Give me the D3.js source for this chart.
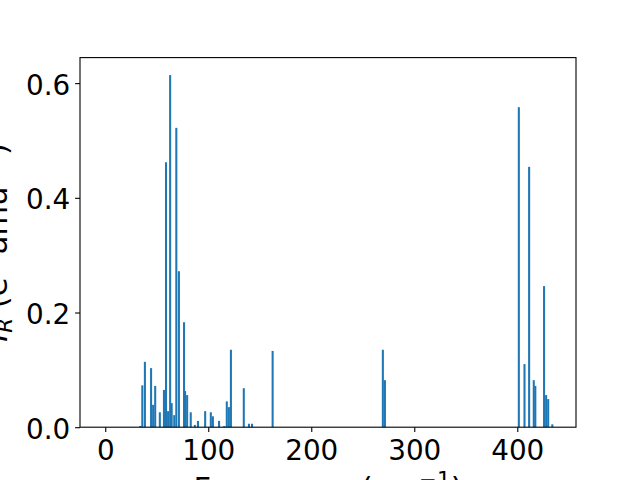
<!DOCTYPE html>
<html lang="en">

<head>
    <meta charset="utf-8" />
    <script src="https://d3js.org/d3.v7.min.js"></script>
    <style type="text/css">
        body {
            margin: 0;
            background: #ffffff;
        }

        svg text {
            font-family: 'DejaVu Sans', sans-serif;
        }

        .axis path,
        .axis line {
            stroke: #000000;
            stroke-width: 1.1px;
        }
    </style>
</head>

<body>
    <div class="svg-box"></div>
    <script type="text/javascript">
        // Mode frequencies (cm^-1) and IR intensities
        var frequencies = [34, 36, 38.5, 44.5, 46.5, 48.5, 53, 57, 59, 61, 63, 64.5, 67, 69, 71.5,
            76.5, 77.5, 79.5, 83, 87, 90, 97, 102.5, 104.5, 110.5, 115.5, 118, 120, 122,
            134.5, 139.5, 142.5, 162.5, 269.5, 271.5, 401.5, 407, 411.5, 416, 417.5,
            426, 428, 430, 434];
        var intensities = [0.002, 0.073, 0.114, 0.103, 0.039, 0.072, 0.026, 0.065, 0.462, 0.028, 0.614, 0.042, 0.021, 0.522, 0.272,
            0.183, 0.063, 0.056, 0.026, 0.004, 0.011, 0.028, 0.026, 0.019, 0.011, 0.002, 0.045, 0.035, 0.135,
            0.068, 0.006, 0.006, 0.133, 0.135, 0.082, 0.558, 0.110, 0.454, 0.082, 0.072,
            0.246, 0.056, 0.049, 0.005];
        var xTicks = [0, 100, 200, 300, 400];
        var yTicks = [0.0, 0.2, 0.4, 0.6];

        var barWidth = 2;

        var W = 640;
        var H = 480;
        var margins = {
            top: 57.6,
            left: 80,
            right: 64,
            bottom: 52.8
        }
        var plotW = W - margins.left - margins.right;
        var plotH = H - margins.top - margins.bottom;
        var tickFont = '27.8px';
        var labelFont = '30.5px';

        var points = frequencies.map(function (f, i) {
            return { x: f, y: intensities[i] };
        });

        var svg = d3.select('div.svg-box')
            .append('svg')
            .attr('width', W)
            .attr('height', H)
            .style('display', 'block');

        var g = svg.append('g')
            .attr('transform', 'translate(' + margins.left + ',' + margins.top + ')');

        var x = d3.scaleLinear()
            .domain([-24.5, 457])
            .range([0, plotW]);

        var y = d3.scaleLinear()
            .domain([0, 0.6445])
            .range([plotH, 0]);

        g.append('g')
            .selectAll('rect')
            .data(points)
            .enter()
            .append('rect')
            .attr('x', function (d) { return x(d.x - barWidth / 2) })
            .attr('width', function (d) { return x(barWidth) - x(0) })
            .attr('y', function (d) { return y(d.y) })
            .attr('height', function (d) { return y(0) - y(d.y) })
            .attr('fill', '#1f77b4');

        // frame
        g.append('rect')
            .attr('width', plotW)
            .attr('height', plotH)
            .attr('fill', 'none')
            .attr('stroke', '#000')
            .attr('stroke-width', 1.1);

        g.append('g')
            .attr('class', 'axis')
            .attr('transform', 'translate(0,' + plotH + ')')
            .call(d3.axisBottom(x).tickValues(xTicks).tickSize(4.9).tickPadding(4.9).tickFormat(d3.format('d')))
            .call(function (a) { a.select('.domain').remove() })
            .selectAll('text')
            .attr('fill', '#000')
            .attr('dy', '0.81em')
            .style('font-size', tickFont);

        g.append('g')
            .attr('class', 'axis')
            .call(d3.axisLeft(y).tickValues(yTicks).tickSize(4.9).tickPadding(4.9).tickFormat(d3.format('.1f')))
            .call(function (a) { a.select('.domain').remove() })
            .selectAll('text')
            .attr('fill', '#000')
            .attr('dy', '0.4em')
            .style('font-size', tickFont);

        // x label: Frequency (cm^-1)
        var xl = svg.append('text')
            .attr('x', margins.left + plotW / 2)
            .attr('y', 499)
            .attr('text-anchor', 'middle')
            .style('font-size', labelFont);
        xl.append('tspan').text('Frequency (cm');
        xl.append('tspan').attr('dy', -12).style('font-size', '21.4px').text('\u22121');
        xl.append('tspan').attr('dy', 12).text(')');

        // y label: I_R (e^2 amu^-1)
        var yl = svg.append('text')
            .attr('transform', 'translate(7,' + (margins.top + plotH / 2) + ') rotate(-90)')
            .attr('text-anchor', 'middle')
            .style('font-size', labelFont);
        yl.append('tspan').style('font-style', 'italic').text('I');
        yl.append('tspan').attr('dy', 5).style('font-size', '21.4px').style('font-style', 'italic').text('R');
        yl.append('tspan').attr('dy', -5).text(' (e');
        yl.append('tspan').attr('dy', -12).style('font-size', '21.4px').text('2');
        yl.append('tspan').attr('dy', 12).text(' amu');
        yl.append('tspan').attr('dy', -12).style('font-size', '21.4px').text('\u22121');
        yl.append('tspan').attr('dy', 12).text(')');
    </script>
</body>

</html>
